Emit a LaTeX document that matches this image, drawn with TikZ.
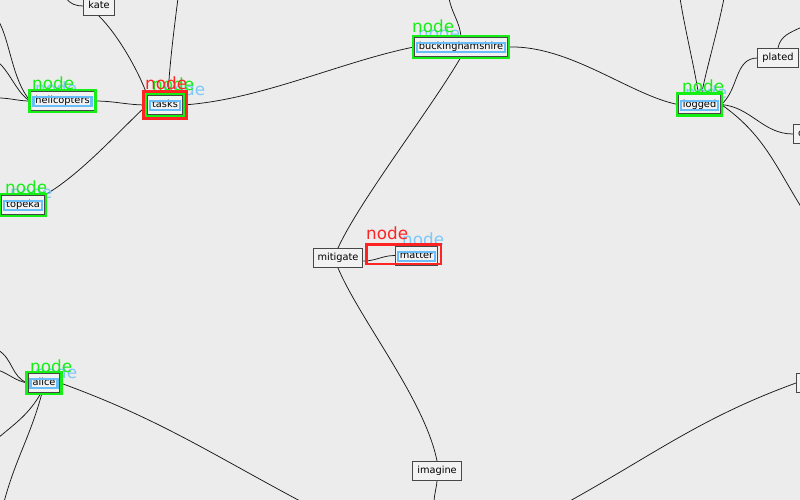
\documentclass[tikz,border=0pt]{standalone}
\usepackage{fontspec}
\setmainfont{DejaVu Sans}
\pgfdeclarelayer{back}
\pgfsetlayers{back,main}
\definecolor{paper}{RGB}{236,236,236}
\definecolor{annGreen}{RGB}{20,240,20}
\definecolor{annRed}{RGB}{255,35,35}
\definecolor{annBlue}{RGB}{105,190,250}
\definecolor{annBlueText}{RGB}{125,200,250}
\tikzset{
 box/.style={draw=black!72, fill=white!95!black, line width=1pt, inner xsep=4.5pt, inner ysep=0pt, minimum height=19pt, text height=7.5pt, text depth=2pt, font=\fontsize{9.8}{11}\selectfont},
 link/.style={line width=0.75pt, draw=black!90},
 greenrect/.style={draw=annGreen, line width=2.5pt},
 redrect/.style={draw=annRed, line width=2.5pt},
 bluerect/.style={draw=annBlue, line width=2.4pt},
 glabel/.style={anchor=base west, inner sep=0pt, text=annGreen, font=\fontsize{16.8}{18}\selectfont},
 rlabel/.style={glabel, text=annRed},
 blabel/.style={glabel, text=annBlueText},
}
\begin{document}
\begin{tikzpicture}[x=1pt,y=-1pt]
\begin{pgfonlayer}{back}
\fill[paper] (0,0) rectangle (800,500);
\end{pgfonlayer}
\useasboundingbox (0,0) rectangle (800,500);

% nodes
\node[box] (kate) at (99,6) {kate};
\node[box] (heli) at (62.5,101) {helicopters};
\node[box] (tasks) at (165,105) {tasks};
\node[box] (topeka) at (23,205) {topeka};
\node[box] (bucks) at (461,47) {buckinghamshire};
\node[box] (logged) at (699.5,104.5) {logged};
\node[box] (plated) at (778,58) {plated};
\node[box, anchor=west, text width=36pt, align=left] (cnode) at (793,134) {c};
\node[box, anchor=west, minimum width=30pt] (rnode) at (796,383) {};
\node[box] (mitigate) at (338,258) {mitigate};
\node[box] (matter) at (416.5,255.5) {matter};
\node[box] (alice) at (44,383) {alice};
\node[box] (imagine) at (437,471) {imagine};

% free ends
\coordinate (k0) at (66,-2);
\coordinate (t0) at (178,-2);
\coordinate (h1) at (-2,20);
\coordinate (h2) at (-2,62);
\coordinate (h3) at (-2,98);
\coordinate (b0) at (449,-2);
\coordinate (l1) at (680,-2);
\coordinate (l2) at (724,-2);
\coordinate (p0) at (802,27);
\coordinate (l0) at (803,210);
\coordinate (i0) at (434,502);
\coordinate (d0) at (568,502);
\coordinate (a0) at (302,502);
\coordinate (a1) at (-2,350);
\coordinate (a2) at (-2,370);
\coordinate (a3) at (-2,438);
\coordinate (a4) at (4,502);

\begin{pgfonlayer}{back}
\draw[link] (k0) to[out=-55,in=180] (kate.west);
\draw[link] (kate.south) .. controls (118,35) and (138,70) .. (tasks.north west);
\draw[link] (t0) .. controls (174,30) and (170,60) .. ([xshift=3pt]tasks.north);
\draw[link] (heli.east) to[out=0,in=180] (tasks.west);
\draw[link] (tasks.west) .. controls (120,130) and (80,175) .. (topeka.north east);
\draw[link] (tasks.east) .. controls (260,100) and (340,62) .. (bucks.west);
\draw[link] (b0) to[out=-80,in=95] (bucks.north);
\draw[link] (bucks.east) .. controls (570,45) and (630,95) .. (logged.west);
\draw[link] (bucks.south) .. controls (430,110) and (360,200) .. (mitigate.north);
\draw[link] ([yshift=-3pt]mitigate.east) to[out=0,in=180] (matter.west);
\draw[link] (mitigate.south) .. controls (360,320) and (425,400) .. (imagine.north);
\draw[link] (imagine.south) to[out=-95,in=88] (i0);
\draw[link] (d0) to[out=29,in=200] (rnode.west);
\draw[link] (alice.east) to[out=-20,in=152] (a0);
\draw[link] (a1) to[out=-30,in=160] (alice.west);
\draw[link] (a2) to[out=-20,in=170] (alice.west);
\draw[link] (a3) to[out=40,in=-120] ([xshift=-3pt]alice.south);
\draw[link] (a4) to[out=75,in=-105] ([xshift=-2pt]alice.south);
\draw[link] (h1) .. controls (10,40) and (12,80) .. (heli.west);
\draw[link] (h2) .. controls (10,72) and (18,95) .. (heli.west);
\draw[link] (h3) to[out=0,in=180] (heli.west);
\draw[link] (l1) .. controls (685,30) and (695,70) .. ([xshift=-1pt]logged.north);
\draw[link] (l2) .. controls (718,30) and (706,70) .. ([xshift=2pt]logged.north);
\draw[link] (logged.east) to[out=40,in=180] (plated.west);
\draw[link] (plated.north) to[out=80,in=205] (p0);
\draw[link] (logged.east) to[out=-5,in=180] (cnode.west);
\draw[link] (logged.east) to[out=-35,in=122] (l0);
% blue labels (behind boxes)
\node[blabel] at (35,95) {node};
\node[blabel] at (163,96) {node};
\node[blabel] at (418,40) {node};
\node[blabel] at (685,99) {node};
\node[blabel] at (10,198) {node};
\node[blabel] at (35,378) {node};
\node[blabel] at (402,245) {node};
\end{pgfonlayer}

% annotation rectangles
\foreach \n in {heli,tasks,topeka,bucks,logged,matter,alice}
  \draw[bluerect] ([shift={(3pt,-2.5pt)}]\n.base west) rectangle ([shift={(-3pt,6.5pt)}]\n.base east);
\foreach \n in {heli,tasks,topeka,bucks,logged,alice}
  \draw[greenrect] ([shift={(-1pt,-1pt)}]\n.south west) rectangle ([shift={(1pt,1pt)}]\n.north east);
\draw[redrect] ([shift={(-3.5pt,-3.5pt)}]tasks.south west) rectangle ([shift={(3.5pt,3.5pt)}]tasks.north east);
\draw[redrect] (366.25,244.25) rectangle (440.75,263.75);

% labels
\node[glabel] at (32,90) {node};
\node[glabel] at (412,33) {node};
\node[glabel] at (682,93) {node};
\node[glabel] at (5,193) {node};
\node[glabel] at (30,372) {node};
\node[glabel] at (152,91) {node};
\node[rlabel] at (145,90) {node};
\node[rlabel] at (366,239) {node};
\end{tikzpicture}
\end{document}
